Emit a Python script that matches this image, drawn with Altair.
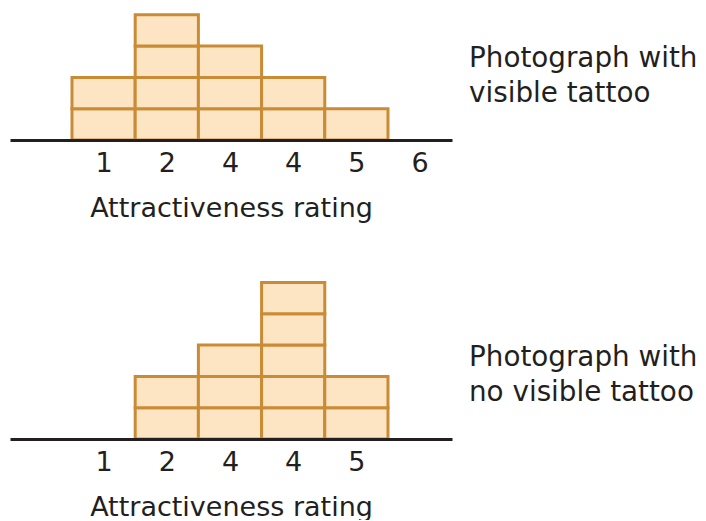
import json
import altair as alt
import pandas as pd

# ---- data ----
top_labels = ["1", "2", "4", "4", "5", "6"]
top_counts = [2, 4, 3, 2, 1, 0]
top_caption = ["Photograph with", "visible tattoo"]

bottom_labels = ["1", "2", "4", "4", "5"]
bottom_counts = [0, 2, 3, 5, 2]
bottom_caption = ["Photograph with", "no visible tattoo"]

axis_title = "Attractiveness rating"

FILL = "#fde5c4"
STROKE = "#c98b35"
INK = "#231f20"
FONT = "DejaVu Sans"

UNIT = 31.3
XDOM = [-0.481, 6.513]


def boxes(counts):
    rows = []
    for i, c in enumerate(counts):
        for lvl in range(c):
            rows.append({"pos": i + 1, "x0": i + 0.5, "x1": i + 1.5, "y0": lvl, "y1": lvl + 1})
    return pd.DataFrame(rows)


def panel(counts, labels, caption, height, cap_y):
    df = boxes(counts)
    label_expr = "%s[datum.value - 1]" % json.dumps(labels)
    xscale = alt.Scale(domain=XDOM, nice=False, zero=False)
    yscale = alt.Scale(domain=[0, height / UNIT], nice=False, zero=True)
    rects = alt.Chart(df).mark_rect(
        fill=FILL, stroke=STROKE, strokeWidth=3
    ).encode(
        x=alt.X("x0:Q", scale=xscale,
                axis=alt.Axis(
                    values=list(range(1, len(labels) + 1)),
                    labelExpr=label_expr,
                    title=axis_title,
                    grid=False, ticks=False, tickSize=0,
                    domainColor=INK, domainWidth=3,
                    labelFont=FONT, labelFontSize=27, labelColor=INK,
                    labelPadding=10, labelAngle=0,
                    titleFont=FONT, titleFontSize=27, titleFontWeight="normal",
                    titleColor=INK, titlePadding=19,
                    zindex=1,
                )),
        x2="x1:Q",
        y=alt.Y("y0:Q", scale=yscale, axis=None),
        y2="y1:Q",
    )
    cap = alt.Chart(pd.DataFrame({"t": [caption]})).mark_text(
        align="left", baseline="alphabetic", font=FONT, fontSize=27.8,
        color=INK, lineHeight=35,
    ).encode(
        x=alt.value(459), y=alt.value(cap_y), text="t:N"
    )
    return alt.layer(rects, cap).properties(width=442, height=height)


top = panel(top_counts, top_labels, top_caption, 132, 59)
bottom = panel(bottom_counts, bottom_labels, bottom_caption, 166, 93)

chart = alt.vconcat(top, bottom, spacing=52).properties(
    padding={"left": 2, "top": 0, "right": 0, "bottom": 0},
    background="white",
).configure_view(strokeWidth=0, stroke=None)

chart.save("out.html", embed_options={"renderer": "svg", "actions": False})
